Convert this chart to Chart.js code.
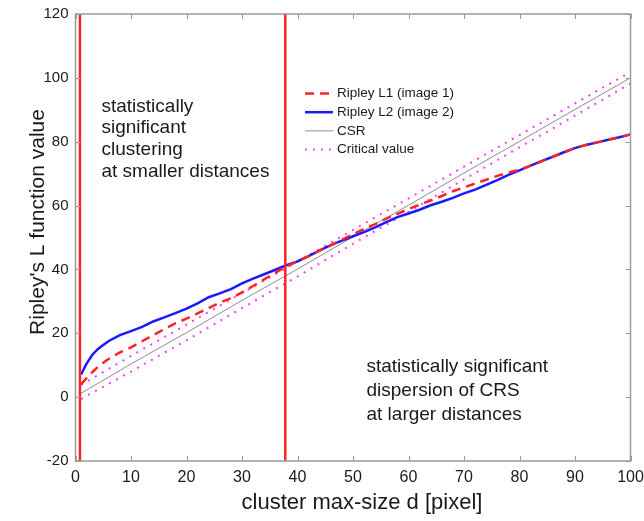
<!DOCTYPE html>
<html>
<head>
<meta charset="utf-8">
<script src="https://cdn.jsdelivr.net/npm/chart.js@4/dist/chart.umd.min.js"></script>
<style>
  html, body { margin: 0; padding: 0; background: #fff; }
  #wrap { width: 644px; height: 521px; }
</style>
</head>
<body>
<div id="wrap"><canvas id="ripChart" width="644" height="521"></canvas></div>
<script>
// distances d [pixel]
const dist = [1, 2, 3, 4, 5, 6, 8, 10, 12, 14, 16, 18, 20, 22, 24, 26, 28, 30, 32, 34, 36, 38, 40,
  42, 44, 46, 48, 50, 52, 54, 56, 58, 60, 62, 64, 66, 68, 70, 72, 74, 76, 78, 80, 82, 84, 86, 88,
  90, 92, 94, 96, 98, 100];
// Ripley L1 (image 1) - red dashed
const ripleyL1 = [4, 6, 7.8, 9.4, 10.8, 12, 14, 15.6, 17.5, 19.4, 21.3, 23.1, 24.6, 26.2, 27.9,
  29.6, 31, 32.8, 34.8, 36.9, 39, 40.9, 42.6, 44.2, 45.9, 47.6, 49.3, 51, 52.7, 54.2, 55.9, 57.4,
  58.9, 60.3, 61.6, 63, 64.5, 65.7, 66.9, 68.1, 69.3, 70.3, 71.2, 72.5, 73.9, 75.3, 76.7, 78,
  79, 79.8, 80.6, 81.4, 82.3];
// Ripley L2 (image 2) - blue solid
const ripleyL2 = [7.1, 10.5, 13.2, 15, 16.3, 17.6, 19.4, 20.7, 22, 23.7, 25, 26.3, 27.7, 29.4,
  31.3, 32.5, 33.8, 35.6, 37.1, 38.5, 39.9, 41.3, 42.5, 44.2, 46, 47.6, 49, 50.4, 51.7, 53.2, 54.8,
  56.4, 57.5, 58.7, 60.1, 61.2, 62.4, 63.8, 65, 66.5, 68, 69.6, 71, 72.5, 73.9, 75.3, 76.7, 78,
  79, 79.8, 80.6, 81.4, 82.3];
// CSR and critical value envelope
const csrD = [1, 10, 20, 30, 40, 50, 60, 70, 80, 90, 100];
const csr = [1.2, 10.4, 20.2, 30.3, 40.1, 50.2, 60.1, 70.2, 80.1, 90.1, 100];
const critUpper = [3.8, 12.9, 22.7, 32.6, 42.4, 52.4, 62.2, 72.2, 82.1, 92, 101.8];
const critLower = [-0.6, 8, 17.8, 27.9, 37.8, 48, 58, 68.2, 78.2, 88.2, 98.2];
// vertical markers
const markerD = [0.8, 37.8];

const xTicks = [0, 10, 20, 30, 40, 50, 60, 70, 80, 90, 100];
const yTicks = [-20, 0, 20, 40, 60, 80, 100, 120];

const FONT = "'Liberation Sans', Arial, sans-serif";
const TEXT = "#1a1a1a";
const RED = "#ff2424";
const BLUE = "#1a1aff";
const GRAY = "#8c8c8c";
const MAGENTA = "#ff3cff";

function pts(xs, ys) {
  return xs.map((x, i) => ({ x: x, y: ys[i] }));
}

const datasets = [];
markerD.forEach((d) => {
  datasets.push({
    data: [{ x: d, y: -20 }, { x: d, y: 120 }],
    borderColor: RED,
    borderWidth: 2.5,
    pointRadius: 0,
  });
});
datasets.push(
  { label: "Ripley L1 (image 1)", data: pts(dist, ripleyL1), borderColor: RED, borderWidth: 2.5, borderDash: [9, 6], pointRadius: 0 },
  { label: "Ripley L2 (image 2)", data: pts(dist, ripleyL2), borderColor: BLUE, borderWidth: 2.5, pointRadius: 0 },
  { label: "CSR", data: pts(csrD, csr), borderColor: GRAY, borderWidth: 1, pointRadius: 0 },
  { label: "Critical value", data: pts(csrD, critUpper), borderColor: MAGENTA, borderWidth: 2, borderDash: [2, 6], pointRadius: 0 },
  { data: pts(csrD, critLower), borderColor: MAGENTA, borderWidth: 2, borderDash: [2, 6], pointRadius: 0 }
);

const legendItems = [
  { label: "Ripley L1 (image 1)", color: RED, width: 2.5, dash: [9, 6] },
  { label: "Ripley L2 (image 2)", color: BLUE, width: 2.5, dash: [] },
  { label: "CSR", color: GRAY, width: 1, dash: [] },
  { label: "Critical value", color: MAGENTA, width: 2, dash: [2, 6] },
];

const decorations = {
  id: "decorations",
  afterDraw(chart) {
    const ctx = chart.ctx;
    const a = chart.chartArea;
    const xs = chart.scales.x;
    const ys = chart.scales.y;
    ctx.save();

    // frame + inward ticks
    ctx.strokeStyle = "#9a9a9a";
    ctx.lineWidth = 1.5;
    ctx.strokeRect(a.left, a.top, a.right - a.left, a.bottom - a.top);
    ctx.lineWidth = 1;
    ctx.beginPath();
    xTicks.forEach((v) => {
      const px = Math.round(xs.getPixelForValue(v)) + 0.5;
      ctx.moveTo(px, a.bottom); ctx.lineTo(px, a.bottom - 5);
      ctx.moveTo(px, a.top); ctx.lineTo(px, a.top + 5);
    });
    yTicks.forEach((v) => {
      const py = Math.round(ys.getPixelForValue(v)) + 0.5;
      ctx.moveTo(a.left, py); ctx.lineTo(a.left + 5, py);
      ctx.moveTo(a.right, py); ctx.lineTo(a.right - 5, py);
    });
    ctx.stroke();

    // legend
    ctx.font = "13.5px " + FONT;
    ctx.textBaseline = "middle";
    ctx.textAlign = "left";
    legendItems.forEach((it, i) => {
      const y = 93.5 + i * 18.7;
      ctx.strokeStyle = it.color;
      ctx.lineWidth = it.width;
      ctx.setLineDash(it.dash);
      ctx.beginPath();
      ctx.moveTo(305, y); ctx.lineTo(333, y);
      ctx.stroke();
      ctx.setLineDash([]);
      ctx.fillStyle = TEXT;
      ctx.fillText(it.label, 337, y);
    });

    // annotations
    ctx.fillStyle = TEXT;
    ctx.font = "19px " + FONT;
    ctx.textBaseline = "alphabetic";
    ["statistically", "significant", "clustering", "at smaller distances"].forEach((t, i) => {
      ctx.fillText(t, 101.5, 111.7 + i * 21.7);
    });
    ["statistically significant", "dispersion of CRS", "at larger distances"].forEach((t, i) => {
      ctx.fillText(t, 366.5, 371.7 + i * 24.2);
    });

    // axis titles
    ctx.font = "22px " + FONT;
    ctx.textAlign = "center";
    ctx.fillText("cluster max-size d [pixel]", 362, 509);
    ctx.save();
    ctx.translate(43.5, 222);
    ctx.rotate(-Math.PI / 2);
    ctx.font = "21px " + FONT;
    ctx.fillText("Ripley's L function value", 0, 0);
    ctx.restore();

    ctx.restore();
  },
};

new Chart(document.getElementById("ripChart"), {
  type: "line",
  data: { datasets: datasets },
  options: {
    responsive: false,
    animation: false,
    devicePixelRatio: 1,
    layout: { padding: { top: 14, right: 13.5, left: 0, bottom: 0 } },
    plugins: { legend: { display: false }, tooltip: { enabled: false } },
    elements: { line: { tension: 0, fill: false } },
    scales: {
      x: {
        type: "linear",
        min: 0,
        max: 100,
        afterBuildTicks: (s) => { s.ticks = xTicks.map((v) => ({ value: v })); },
        afterFit: (s) => { s.height = 60; s.paddingLeft = 0; s.paddingRight = 0; },
        ticks: { font: { family: FONT, size: 16 }, color: TEXT, padding: 7, maxRotation: 0 },
        grid: { display: false, drawTicks: false },
        border: { display: false },
      },
      y: {
        type: "linear",
        min: -20,
        max: 120,
        afterBuildTicks: (s) => { s.ticks = yTicks.map((v) => ({ value: v })); },
        afterFit: (s) => { s.width = 75.5; s.paddingTop = 0; s.paddingBottom = 0; },
        ticks: { font: { family: FONT, size: 15 }, color: TEXT, padding: 7 },
        grid: { display: false, drawTicks: false },
        border: { display: false },
      },
    },
  },
  plugins: [decorations],
});
</script>
</body>
</html>
